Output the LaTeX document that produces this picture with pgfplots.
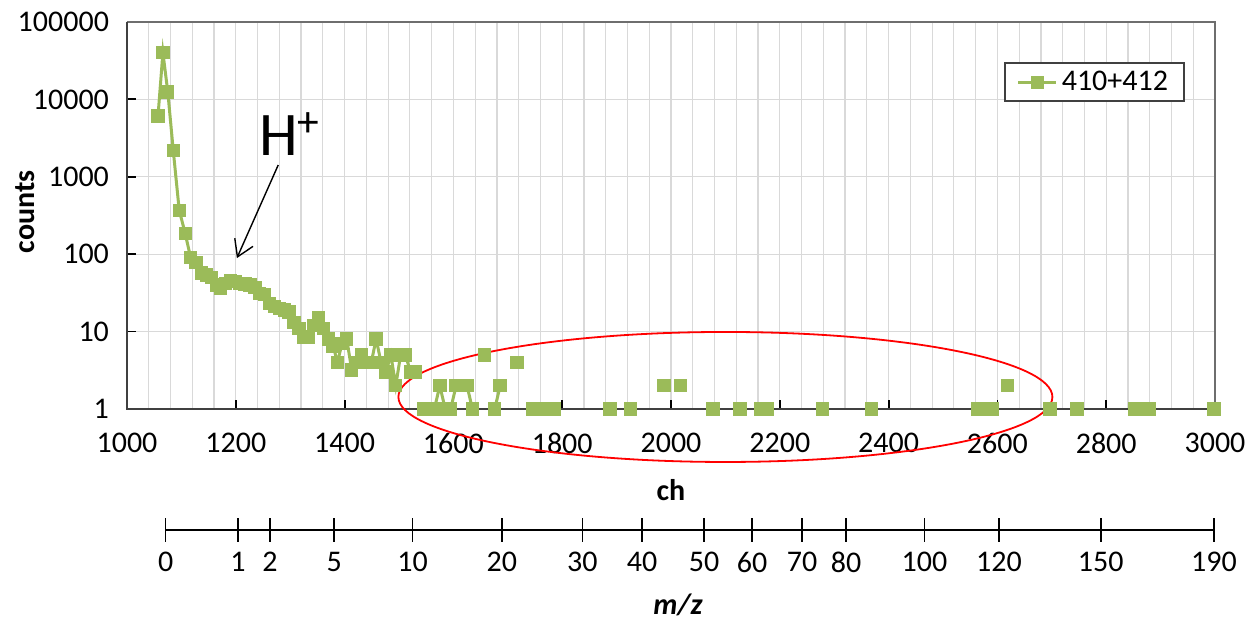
\documentclass[border=0pt]{standalone}
\usepackage{fontspec}
\setmainfont{Carlito}
\usepackage{pgfplots}
\pgfplotsset{compat=1.18}
\usetikzlibrary{arrows.meta}
\definecolor{sergreen}{RGB}{155,187,89}
\definecolor{gridgray}{RGB}{217,217,217}
\definecolor{axisdark}{RGB}{64,64,64}
\definecolor{boxgray}{RGB}{110,110,110}
\newcommand{\fs}{\fontsize{15}{18}\selectfont}
\begin{document}
\begin{tikzpicture}[font=\fs]
\useasboundingbox (-63.5pt,-107.5pt) rectangle (565pt,204.5pt);
\begin{axis}[
 name=main, at={(0,0)}, anchor=south west,
 scale only axis, width=544pt, height=193.5pt,
 xmin=1000, xmax=3000, ymode=log, ymin=1, ymax=100000,
 xtick={1000,1200,...,3000},
 xticklabels={1000,1200,1400,1600,1800,2000,2200,2400,2600,2800,3000},
 ytick={1,10,100,1000,10000,100000},
 yticklabels={1,10,100,1000,10000,100000},
 minor x tick num=4, yminorticks=false,
 xmajorgrids, xminorgrids, ymajorgrids,
 grid style={gridgray, line width=0.6pt},
 minor tick length=0pt, major tick length=4.5pt,
 tick align=inside, xtick pos=bottom, ytick pos=left,
 tick style={black, line width=0.9pt},
 axis line style={draw=none},
 xlabel={\textbf{ch}}, ylabel={\textbf{counts}},
 every axis x label/.style={at={(rel axis cs:0.5,0)}, anchor=center, yshift=-40.5pt},
 every axis y label/.style={at={(rel axis cs:0,0.51)}, xshift=-51pt, anchor=center, rotate=90},
 tick label style={font=\fs},
 xticklabel style={yshift=-8.5pt},
 yticklabel style={xshift=-5.5pt},
 clip=false,
 unbounded coords=jump,
 legend style={at={(rel axis cs:0.9724,0.8966)}, anchor=north east, draw=axisdark, line width=1pt, fill=white, inner xsep=6pt, inner ysep=2pt, font=\fs},
 legend image code/.code={\draw[mark repeat=2,mark phase=2,#1] plot coordinates {(0pt,0pt) (9.5pt,0pt) (19pt,0pt)};},
]
\draw[boxgray, line width=0.6pt] (rel axis cs:0,1) -- (rel axis cs:1,1) -- (rel axis cs:1,0);
\draw[axisdark, line width=1.3pt] (rel axis cs:0,1) -- (rel axis cs:0,0) -- (rel axis cs:1,0);
\addplot[sergreen, line width=1.5pt, mark=square*, mark size=2.6pt, mark options={solid}] coordinates {
(1057,6100) (1066,40000) (1075,12500) (1085,2200) (1096,370) (1107,185) (1117,90) (1127,78)
(1137,57) (1146,54) (1155,50) (1164,40) (1172,36) (1181,42) (1190,46) (1199,44) (1208,42)
(1217,41) (1226,40) (1235,37) (1244,31) (1253,30) (1262,23) (1271,21) (1280,20) (1289,19)
(1298,18) (1307,13) (1316,11) (1325,8.5) (1334,8.5) (1343,12) (1352,15) (1361,11) (1370,8)
(1379,6.5) (1387,4) (1395,7) (1404,8) (1413,3.2) (1422,4) (1431,5) (1440,4) (1449,4) (1458,8)
(1467,4) (1476,3) (1485,5) (1494,2) (1503,5) (1512,5) (1521,3) (1530,3)
(1538,nan)
(1545,1) (1555,1) (1565,1) (1575,2) (1585,1) (1595,1) (1605,2) (1615,2) (1625,2) (1635,1)
(1646,nan) (1657,5) (1666,nan)
(1676,1) (1686,2) (1700,nan) (1717,4) (1730,nan)
(1745,1) (1755,1) (1765,1) (1775,1) (1785,1) (1800,nan)
(1888,1) (1900,nan) (1926,1) (1950,nan) (1987,2) (2000,nan) (2017,2) (2040,nan)
(2077,1) (2100,nan) (2127,1) (2150,nan) (2165,1) (2177,1) (2200,nan) (2278,1) (2300,nan)
(2369,1) (2400,nan) (2564,1) (2576,1) (2590,1) (2604,nan) (2618,2) (2640,nan)
(2697,1) (2720,nan) (2746,1) (2800,nan) (2852,1) (2866,1) (2880,1) (2900,nan) (2998,1)
};
\addlegendentry{410+412}
\draw[red, line width=0.9pt] (axis cs:2100,1.43) ellipse [x radius=163.5pt, y radius=32.5pt];
\node[anchor=base west, inner sep=0pt, font=\fontsize{31}{36}\selectfont] at (axis cs:1242,1910) {H\textsuperscript{+}};
\draw[-{Straight Barb[length=8pt,width=10pt]}, line width=0.7pt] (axis cs:1278,1420) -- (axis cs:1202,89);
\end{axis}
\begin{axis}[
 at={(19.31pt,-60.5pt)}, anchor=west,
 scale only axis, width=524.14pt, height=12pt,
 xmin=1071, xmax=2998, ymin=-1, ymax=1,
 axis x line*=middle, axis y line=none,
 xtick={1071,1204,1263,1381,1525,1689,1837,1947,2061,2149,2241,2322,2466,2603,2790,2998},
 xticklabels={0,1,2,5,10,20,30,40,50,60,70,80,100,120,150,190},
 tick align=center, major tick length=12pt, tick style={black, line width=0.8pt},
 axis line style={black, line width=0.8pt},
 tick label style={font=\fs},
 xticklabel style={yshift=-1.5pt},
 xlabel={\textbf{\textit{m/z}}},
 every axis x label/.style={at={(axis cs:2013,0)}, anchor=center, yshift=-37.5pt},
]
\addplot[draw=none] coordinates {(1071,0)};
\end{axis}
\end{tikzpicture}
\end{document}
